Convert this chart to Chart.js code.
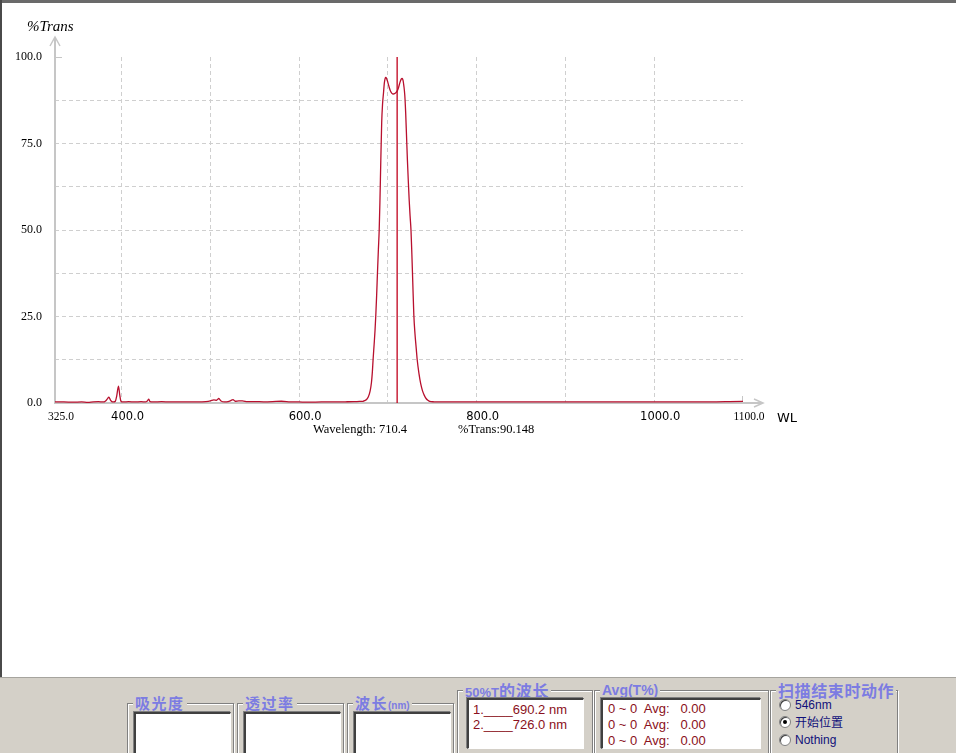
<!DOCTYPE html>
<html><head><meta charset="utf-8">
<script src="https://cdn.jsdelivr.net/npm/chart.js@4.4.0/dist/chart.umd.min.js"></script>
<style>
html,body{margin:0;padding:0;width:956px;height:753px;overflow:hidden;background:#fff;font-family:"Liberation Sans",Arial,sans-serif;}
#c{position:absolute;left:0;top:0;}
#topB{position:absolute;left:0;top:0;width:956px;height:3px;background:#6a6a6a;}
#leftB{position:absolute;left:0;top:0;width:2px;height:677px;background:#4a4a4a;}
#panel{position:absolute;left:0;top:677px;width:956px;height:76px;background:#d4d0c8;border-top:1px solid #a6a49e;box-sizing:border-box;}
.grp{position:absolute;border:1px solid #808080;box-shadow:inset 1px 1px 0 #fff,1px 1px 0 #fff;}
.gt{position:absolute;background:#d4d0c8;color:#7c7ce2;font-weight:bold;white-space:nowrap;padding:0 2px;line-height:18px;height:18px;}
.cjk{font-family:"Noto Sans CJK SC",sans-serif;}
.box{position:absolute;background:#fff;border-top:2px solid #404040;border-left:2px solid #404040;border-right:1px solid #fff;border-bottom:1px solid #fff;box-shadow:-1px -1px 0 #808080;box-sizing:border-box;}
.ln{position:absolute;font-family:"Liberation Sans",Arial,sans-serif;font-size:13px;color:#8a1020;white-space:pre;line-height:15px;}
.rd{position:absolute;width:12px;height:12px;border-radius:50%;background:#fff;border:1px solid #808080;box-sizing:border-box;box-shadow:inset 1px 1px 0 #404040;}
.rd.on::after{content:"";position:absolute;left:3px;top:3px;width:4px;height:4px;border-radius:50%;background:#000;}
.rl{position:absolute;font-size:12px;color:#10107a;white-space:nowrap;line-height:14px;}
</style>
</head>
<body>
<canvas id="c" width="956" height="677"></canvas>
<div id="topB"></div><div id="leftB"></div>
<div id="panel"></div>

<div class="grp" style="left:127px;top:703px;width:105px;height:70px;"></div>
<div class="gt cjk" style="left:133px;top:694px;font-size:15px;letter-spacing:1.5px;">吸光度</div>
<div class="box" style="left:134px;top:712px;width:97px;height:50px;"></div>

<div class="grp" style="left:237px;top:703px;width:105px;height:70px;"></div>
<div class="gt cjk" style="left:243px;top:694px;font-size:15px;letter-spacing:1.5px;">透过率</div>
<div class="box" style="left:244px;top:712px;width:97px;height:50px;"></div>

<div class="grp" style="left:347px;top:703px;width:105px;height:70px;"></div>
<div class="gt" style="left:353px;top:694px;"><span class="cjk" style="font-size:15px;letter-spacing:1.5px;">波长</span><span style="font-size:10px;">(nm)</span></div>
<div class="box" style="left:354px;top:712px;width:97px;height:50px;"></div>

<div class="grp" style="left:457px;top:690px;width:134px;height:80px;"></div>
<div class="gt" style="left:463px;top:681px;"><span style="font-size:13px;">50%T</span><span class="cjk" style="font-size:16px;letter-spacing:0.8px;">的波长</span></div>
<div class="box" style="left:467px;top:698px;width:117px;height:51px;"></div>
<div class="ln" id="hp1" style="left:473px;top:702px;"></div>
<div class="ln" id="hp2" style="left:473px;top:717px;"></div>

<div class="grp" style="left:594px;top:690px;width:173px;height:80px;"></div>
<div class="gt" style="left:600px;top:681px;font-size:14px;">Avg(T%)</div>
<div class="box" style="left:601px;top:698px;width:160px;height:51px;"></div>
<div class="ln" id="av1" style="left:608px;top:701px;"></div>
<div class="ln" id="av2" style="left:608px;top:717px;"></div>
<div class="ln" id="av3" style="left:608px;top:733px;"></div>

<div class="grp" style="left:770px;top:690px;width:126px;height:80px;"></div>
<div class="gt cjk" style="left:776px;top:681px;font-size:16px;letter-spacing:0.6px;">扫描结束时动作</div>
<div class="rd" style="left:779px;top:699px;"></div><div class="rl" style="left:795px;top:698px;">546nm</div>
<div class="rd on" style="left:779px;top:716px;"></div><div class="rl cjk" style="left:795px;top:715px;">开始位置</div>
<div class="rd" style="left:779px;top:734px;"></div><div class="rl" style="left:795px;top:733px;">Nothing</div>

<script>
// ---- data ----
const wavelengths = [325,335,345,355,362,368,374,379,382,384,385.7,387.5,389,391,393,394.5,396.5,398,399.5,402,408,415,422,427,429,430.7,432,436,445,455,465,475,485,495,500,504,507,509.5,512,516,520,523,525.5,528,532,536,542,550,560,570,580,590,600,612,625,640,652,662,668,672,674,676,678,680,681.5,682.5,683.3,684.5,685.5,686.3,687.3,688.3,689.3,690.2,691,692,693,694,695,696,697,697.6,698.5,700,701.5,703,704.5,706,707.5,709,710.4,712,713.5,715,716,717,718,719,720,721,722,723,724,725,726,727,728,729.2,730.5,732,733,735,737,739,741,743,745,747,752,760,775,790,810,830,850,870,890,910,930,950,970,990,1010,1030,1050,1070,1085,1100];
const transmittance = [0.3,0.3,0.25,0.3,0.2,0.35,0.4,0.3,0.6,1.2,1.7,0.8,0.4,0.3,0.5,2.0,4.9,2.2,0.4,0.3,0.4,0.3,0.4,0.3,0.6,1.1,0.4,0.3,0.4,0.3,0.35,0.3,0.3,0.4,0.6,0.9,0.8,1.3,0.6,0.3,0.4,0.7,1.0,0.5,0.6,0.6,0.4,0.4,0.35,0.4,0.5,0.35,0.3,0.25,0.3,0.3,0.35,0.4,0.45,0.5,0.7,1.0,1.8,3.5,6,9,12.5,17,21,25,31,38,44.5,50,58,70,81,86.5,89.5,92.5,93.9,94.1,93.8,92.6,91.2,90.1,89.5,89.3,89.4,89.7,90.15,91.2,92.6,93.6,93.8,93.3,91.6,89,84,77,70,64,58.5,54,50,43,35,25.5,20,15.5,12.5,8.5,5.5,3.5,2.2,1.3,0.8,0.5,0.35,0.3,0.3,0.35,0.3,0.3,0.35,0.3,0.3,0.35,0.3,0.3,0.35,0.3,0.3,0.35,0.3,0.35,0.4,0.45];
const cursorWL = 710.4;
const cursorT = 90.148;
const xTickValues = [325,400,500,600,700,800,900,1000,1100];
const xLabelValues = [325,400,600,800,1000,1100];
const yTickValues = [0,12.5,25,37.5,50,62.5,75,87.5,100];
const yLabelValues = [0,25,50,75,100];
const halfPoints = [690.2,726.0];
const avgRows = [[0,0,0.00],[0,0,0.00],[0,0,0.00]];

// ---- panel text ----
document.getElementById('hp1').textContent = '1.____' + halfPoints[0].toFixed(1) + ' nm';
document.getElementById('hp2').textContent = '2.____' + halfPoints[1].toFixed(1) + ' nm';
avgRows.forEach((r,i)=>{
  document.getElementById('av'+(i+1)).textContent = r[0] + ' ~ ' + r[1] + '  Avg:   ' + r[2].toFixed(2);
});

const decor = {
  id:'decor',
  beforeDatasetsDraw(chart){
    const {ctx, scales:{x,y}} = chart;
    const x0 = x.getPixelForValue(325), y0 = y.getPixelForValue(0);
    const yTop = y.getPixelForValue(100), xEnd = x.getPixelForValue(1100);
    ctx.save();
    ctx.strokeStyle = '#c6c6c6';
    ctx.lineWidth = 2;
    ctx.beginPath(); ctx.moveTo(x0, y0+1); ctx.lineTo(x0, yTop-19); ctx.stroke();
    ctx.beginPath(); ctx.moveTo(x0-1, y0); ctx.lineTo(xEnd+19, y0); ctx.stroke();
    ctx.lineWidth = 1.5;
    ctx.beginPath(); ctx.moveTo(x0-5, yTop-11); ctx.lineTo(x0, yTop-20); ctx.lineTo(x0+5, yTop-11); ctx.stroke();
    ctx.beginPath(); ctx.moveTo(xEnd+11, y0-4); ctx.lineTo(xEnd+20, y0); ctx.lineTo(xEnd+11, y0+4); ctx.stroke();
    ctx.lineWidth = 1;
    ctx.beginPath(); ctx.moveTo(x0, yTop+0.5); ctx.lineTo(x0+7, yTop+0.5); ctx.stroke();
    ctx.beginPath(); ctx.moveTo(xEnd-0.5, y0); ctx.lineTo(xEnd-0.5, y0-7); ctx.stroke();
    ctx.restore();
  },
  afterDraw(chart){
    const {ctx, scales:{x,y}} = chart;
    const x0 = x.getPixelForValue(325), y0 = y.getPixelForValue(0);
    const yTop = y.getPixelForValue(100), xEnd = x.getPixelForValue(1100);
    ctx.save();
    ctx.fillStyle = '#000';
    ctx.textBaseline = 'middle';
    ctx.textAlign = 'left';
    ctx.font = 'italic 15px "Liberation Serif"';
    ctx.fillText('%Trans', x0-28, yTop-30);
    ctx.font = '13px "DejaVu Sans"';
    ctx.fillText('WL', xEnd+34, y0+16);
    ctx.font = '12.5px "Liberation Serif"';
    ctx.fillText('Wavelength: ' + cursorWL.toFixed(1), 313, y0+27);
    ctx.fillText('%Trans:' + cursorT.toFixed(3), 458, y0+27);
    ctx.restore();
  }
};

const lineData = wavelengths.map((w,i)=>({x:w, y:transmittance[i]}));
const isEnd = v => v===325 || v===1100;

new Chart(document.getElementById('c'), {
  type:'line',
  data:{datasets:[
    {data:lineData, borderColor:'#b8102e', borderWidth:1.3, pointRadius:0, cubicInterpolationMode:'monotone', fill:false},
    {data:[{x:cursorWL,y:0},{x:cursorWL,y:100}], borderColor:'#c0001c', borderWidth:1.3, pointRadius:0, fill:false}
  ]},
  options:{
    responsive:false,
    animation:false,
    layout:{padding:{left:0, top:57, right:213, bottom:244}},
    plugins:{legend:{display:false}, tooltip:{enabled:false}},
    scales:{
      x:{
        type:'linear', min:325, max:1100,
        afterBuildTicks:s=>{ s.ticks = xTickValues.map(v=>({value:v})); },
        afterFit:s=>{ s.height = 30; },
        grid:{color:c=> (c.tick && isEnd(c.tick.value)) ? 'rgba(0,0,0,0)' : '#cfcfcf', lineWidth:1, drawTicks:false},
        border:{display:false, dash:[4,3]},
        ticks:{
          autoSkip:false, maxRotation:0, minRotation:0, padding:7, labelOffset:6, color:'#000',
          font:c=> (c.tick && isEnd(c.tick.value)) ? {family:'Liberation Serif', size:11.5} : {family:'DejaVu Sans', size:11.5},
          callback:v=> xLabelValues.includes(v) ? v.toFixed(1) : ''
        }
      },
      y:{
        min:0, max:100,
        afterBuildTicks:s=>{ s.ticks = yTickValues.map(v=>({value:v})); },
        afterFit:s=>{ s.width = 55; },
        grid:{color:c=> (c.tick && (c.tick.value===0 || c.tick.value===100)) ? 'rgba(0,0,0,0)' : '#cfcfcf', lineWidth:1, drawTicks:false},
        border:{display:false, dash:[4,3]},
        ticks:{
          autoSkip:false, padding:13, color:'#000',
          font:{family:'Liberation Serif', size:12},
          callback:v=> yLabelValues.includes(v) ? v.toFixed(1) : ''
        }
      }
    }
  },
  plugins:[decor]
});
</script>
</body></html>
